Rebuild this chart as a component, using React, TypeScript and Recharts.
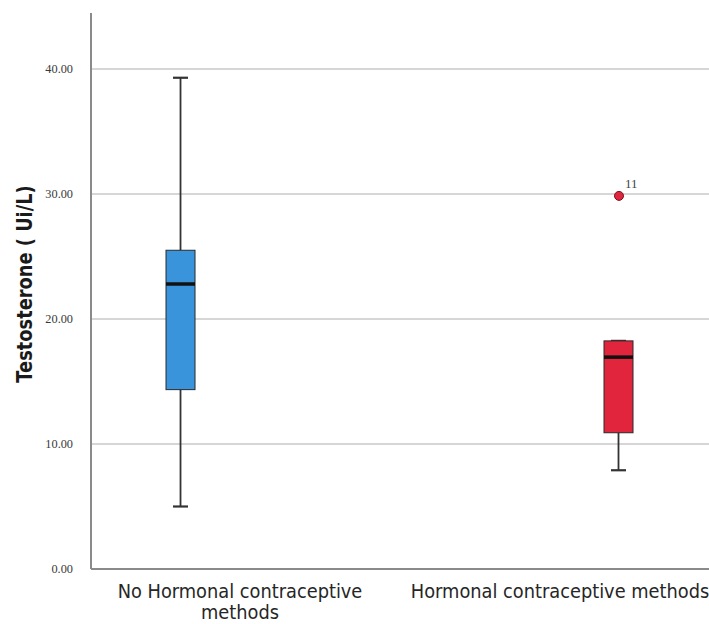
import React from 'react';
import { ComposedChart, Bar, Scatter, XAxis, YAxis, CartesianGrid } from 'recharts';

const groups = ['No Hormonal contraceptive methods', 'Hormonal contraceptive methods'];
const groupLines = [['No Hormonal contraceptive', 'methods'], ['Hormonal contraceptive methods']];
const groupPos = [1, 2];
const whiskerLow = [5.0, 7.9];
const q1 = [14.35, 10.9];
const median = [22.8, 16.95];
const q3 = [25.5, 18.25];
const whiskerHigh = [39.3, 18.25];
const boxColors = ['#3a94dc', '#e0253d'];

const outlierGroup = [2];
const outlierValue = [29.85];
const outlierCase = ['11'];

const yTicks = [0, 10, 20, 30, 40];

const data = groups.map((g, i) => ({
  group: g,
  pos: groupPos[i],
  range: [whiskerLow[i], whiskerHigh[i]],
  q1: q1[i],
  median: median[i],
  q3: q3[i],
  color: boxColors[i],
}));

const outliers = outlierGroup.map((p, i) => ({ pos: p, value: outlierValue[i], id: outlierCase[i] }));

const BoxShape = (props: any) => {
  const { x, y, width, height, payload } = props;
  const [lo, hi] = payload.range;
  const px = (v: number) => y + (height * (hi - v)) / (hi - lo);
  const cx = x + width / 2;
  const cap = 7.5;
  const stroke = '#333';
  return (
    <g>
      <line x1={cx} x2={cx} y1={px(hi)} y2={px(payload.q3)} stroke={stroke} strokeWidth={1.8} />
      <line x1={cx} x2={cx} y1={px(payload.q1)} y2={px(lo)} stroke={stroke} strokeWidth={1.8} />
      <line x1={cx - cap} x2={cx + cap} y1={px(hi)} y2={px(hi)} stroke={stroke} strokeWidth={2.2} />
      <line x1={cx - cap} x2={cx + cap} y1={px(lo)} y2={px(lo)} stroke={stroke} strokeWidth={2.2} />
      <rect
        x={x}
        y={px(payload.q3)}
        width={width}
        height={px(payload.q1) - px(payload.q3)}
        fill={payload.color}
        stroke="#2a2a2a"
        strokeWidth={1}
      />
      <line x1={x} x2={x + width} y1={px(payload.median)} y2={px(payload.median)} stroke="#111" strokeWidth={3.5} />
    </g>
  );
};

const OutlierShape = (props: any) => {
  const { cx, cy, payload } = props;
  return (
    <g>
      <circle cx={cx} cy={cy} r={4.5} fill={boxColors[1]} stroke="#7a1020" strokeWidth={1} />
      <text x={cx + 6} y={cy - 8} fontFamily="'Liberation Serif', serif" fontSize={13} fill="#444">
        {payload.id}
      </text>
    </g>
  );
};

const YTick = ({ x, y, payload }: any) => (
  <text x={x} y={y} dy={4} textAnchor="end" fontFamily="'Liberation Serif', serif" fontSize={12.3} fill="#3a3a3a">
    {Number(payload.value).toFixed(2)}
  </text>
);

const XTick = ({ x, y, payload }: any) => {
  const idx = groups.indexOf(payload.value);
  const lines = groupLines[idx] ?? [String(payload.value)];
  return (
    <g transform={`translate(${x},${y}) scale(0.89,1)`}>
      {lines.map((ln, i) => (
        <text key={i} x={0} y={21 + i * 21} textAnchor="middle" fontFamily="'DejaVu Sans', sans-serif" fontSize={20} fill="#262626">
          {ln}
        </text>
      ))}
    </g>
  );
};

const YLabel = (props: any) => {
  const vb = props.viewBox ?? { x: 0, y: 13, width: 91, height: 556 };
  const cy = vb.y + vb.height / 2 - 7;
  return (
    <text
      transform={`translate(32,${cy}) rotate(-90) scale(0.85,1)`}
      textAnchor="middle"
      fontFamily="'DejaVu Sans', sans-serif"
      fontWeight="bold"
      fontSize={21}
      fill="#1a1a1a"
    >
      Testosterone ( Ui/L)
    </text>
  );
};

export default function App() {
  return (
    <div style={{ position: 'absolute', left: 0, top: 0, background: '#fff' }}>
      <ComposedChart width={709} height={624} data={data} margin={{ top: 13, right: 0, bottom: 0, left: 0 }}>
        <CartesianGrid
          xAxisId="cat"
          vertical={false}
          horizontalValues={yTicks.slice(1)}
          stroke="#d6d6d6"
          strokeWidth={2}
        />
        <XAxis
          xAxisId="cat"
          dataKey="group"
          type="category"
          padding={{ left: -11, right: -11 }}
          height={55}
          axisLine={{ stroke: '#8a8a8a', strokeWidth: 2 }}
          tickLine={false}
          tick={<XTick />}
          interval={0}
        />
        <XAxis
          xAxisId="pos"
          dataKey="pos"
          type="number"
          domain={[0.7945, 2.2055]}
          allowDataOverflow
          hide
        />
        <YAxis
          domain={[0, 44.48]}
          ticks={yTicks}
          allowDataOverflow
          width={91}
          axisLine={{ stroke: '#8a8a8a', strokeWidth: 2 }}
          tickLine={false}
          tickMargin={12}
          tick={<YTick />}
          label={{ content: (p: any) => <YLabel {...p} /> }}
        />
        <Bar xAxisId="pos" dataKey="range" barSize={29} shape={<BoxShape />} isAnimationActive={false} />
        <Scatter xAxisId="pos" data={outliers} dataKey="value" shape={<OutlierShape />} isAnimationActive={false} />
      </ComposedChart>
    </div>
  );
}
